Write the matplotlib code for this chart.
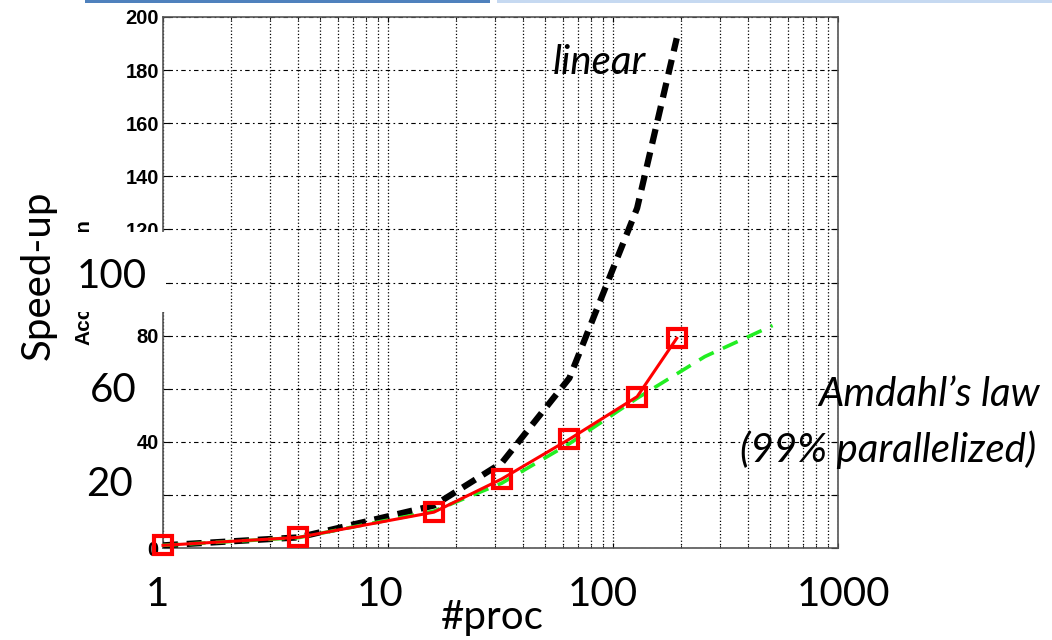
import matplotlib.pyplot as plt
from matplotlib.patches import Rectangle

# data
procs = [1, 4, 16, 32, 64, 128, 192]
linear = [1, 4, 16, 32, 64, 128, 192]
measured = [1, 4, 13.5, 26, 41, 57, 79]
amdahl_procs = [1, 4, 16, 32, 64, 128, 256, 512]
amdahl = [1, 3.9, 13.9, 24.4, 39.3, 56.4, 72.1, 83.8]

yticks = [0, 20, 40, 60, 80, 100, 120, 140, 160, 180, 200]
ytick_labels = ['0', '', '40', '', '80', '', '120', '140', '160', '180', '200']
xlabels_big = ['1', '10', '100', '1000']
xlabels_pos = [157, 380, 603, 843]

W, H = 1052, 640
def fx(x):
    return x / W
def fy(y):
    return 1 - y / H

fig = plt.figure(figsize=(10.52, 6.4), dpi=100)
ax = fig.add_axes([fx(163), fy(548), fx(838) - fx(163), fy(17) - fy(548)])

ax.plot(procs, linear, color='black', lw=4.5, linestyle=(0, (2.4, 1.4)), zorder=3)
ax.plot(amdahl_procs, amdahl, color='#22ee22', lw=2.6, linestyle=(0, (4.5, 2.8)), zorder=4)
ax.plot(procs, measured, color='red', lw=2.2, marker='s', markersize=13,
        markerfacecolor='none', markeredgecolor='red', markeredgewidth=3,
        zorder=5, clip_on=False)

ax.set_xscale('log')
ax.set_xlim(1, 1000)
ax.set_ylim(0, 200)
ax.set_yticks(yticks)
ax.set_yticklabels(ytick_labels, fontsize=14.5, fontweight='bold', family='Liberation Sans')
ax.tick_params(axis='x', which='both', labelbottom=False, direction='in', top=True)
ax.tick_params(axis='y', direction='in', right=True, length=5, pad=3)
ax.grid(True, which='both', axis='x', linestyle=':', color='black', lw=0.9)
ax.grid(True, which='major', axis='y', linestyle=(0, (1.5, 3, 4, 3)), color='black', lw=0.8)
for s in ax.spines.values():
    s.set_color('#555555')
    s.set_linewidth(1.2)

ax.set_ylabel('Acceleration', fontsize=15, fontweight='bold', family='Liberation Sans')
ax.yaxis.set_label_coords((93 - 163) / 675, 0.5)

# white text box that hides part of the original axis
fig.add_artist(Rectangle((fx(55), fy(312)), fx(166) - fx(55), fy(232) - fy(312),
                         transform=fig.transFigure, facecolor='white',
                         edgecolor='none', zorder=2))

# slide header bars
fig.add_artist(Rectangle((fx(85), fy(3)), fx(490) - fx(85), 3 / H,
                         transform=fig.transFigure, facecolor='#4f81bd',
                         edgecolor='none', zorder=2))
fig.add_artist(Rectangle((fx(497), fy(3)), fx(1052) - fx(497), 3 / H,
                         transform=fig.transFigure, facecolor='#c6d9f1',
                         edgecolor='none', zorder=2))

big = dict(family='Lato', fontsize=29, zorder=3, ha='center', va='center')
fig.text(fx(112), fy(276), '100', **big)
fig.text(fx(113), fy(390), '60', **big)
fig.text(fx(110), fy(485), '20', **big)
for lab, px in zip(xlabels_big, xlabels_pos):
    fig.text(fx(px), fy(595), lab, **big)
fig.text(fx(492), fy(618), '#proc', **big)
fig.text(fx(38), fy(275), 'Speed-up', rotation=90, **big)

ital = dict(family='Lato', style='italic', fontsize=29, zorder=3)
fig.text(fx(599), fy(62), 'linear', ha='center', va='center', **ital)
fig.text(fx(1040), fy(395), 'Amdahl\u2019s law', ha='right', va='center', **ital)
fig.text(fx(1036), fy(450), '(99% parallelized)', ha='right', va='center', **ital)

fig.savefig('out.png', dpi=100)
